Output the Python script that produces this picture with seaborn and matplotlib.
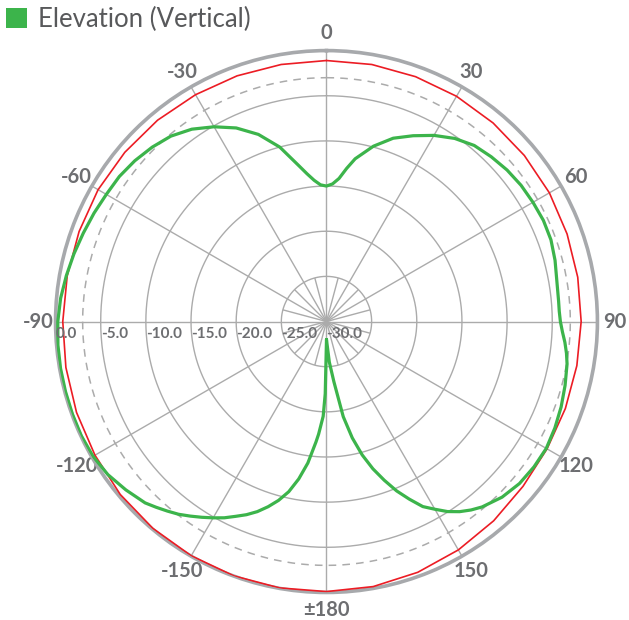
import numpy as np
import pandas as pd
import matplotlib
matplotlib.use('Agg')
import matplotlib.pyplot as plt
import seaborn as sns
from matplotlib.patches import Patch

# Angle tick labels (0 at top, clockwise)
angle_ticks = [0, 30, 60, 90, 120, 150, 180, 210, 240, 270, 300, 330]
angle_labels = ['0', '30', '60', '90', '120', '150', '\u00b1180',
                '-150', '-120', '-90', '-60', '-30']

# Radial scale in dB
ring_db = [-25, -20, -15, -10, -5]
ring_label_db = [-30, -25, -20, -15, -10, -5, 0]
ring_labels = ['-30.0', '-25.0', '-20.0', '-15.0', '-10.0', '-5.0', '0.0']

# Elevation (vertical) pattern, degrees / dB
elev_deg = [-180, -179, -178, -176, -175, -172.5, -170, -167.5, -165, -162.5,
            -160, -157.5, -155, -152.5, -150, -147.5, -145, -142.5, -140, -137.5,
            -135, -130, -125, -120, -115, -110, -105, -100,
            -95, -90, -85, -80, -75, -70, -65, -60, -55, -50,
            -45, -40, -35, -30, -25, -20, -15, -10, -7.5, -5, -2.5, 0,
            2.5, 5, 7.5, 10, 15, 20, 25, 30, 35, 40, 45, 50,
            55, 60, 65, 70, 75, 80, 85, 87.5, 90, 92.5, 95, 97.5, 100,
            105, 110, 115, 120, 125, 130, 135, 140, 142.5, 145, 147.5, 150,
            152.5, 155, 157.5, 160, 162.5, 165, 167.5, 170, 173, 176, 180]
elev_db = [-28.0, -22.0, -19.5, -17.5, -16.6, -14.2, -12.3, -10.7, -9.5, -8.5,
           -7.6, -6.85, -6.2, -5.5, -4.9, -4.3, -3.7, -3.1, -2.6, -2.1,
           -1.6, -1.0, -0.45, -0.15, -0.05, -0.06, -0.08, -0.1,
           -0.15, -0.25, -0.45, -0.75, -1.05, -1.35, -1.6, -1.85, -2.0, -2.3,
           -2.7, -3.2, -4.0, -5.1, -6.35, -7.95, -10.0, -12.5, -13.5, -14.3, -14.85, -15.0,
           -14.75, -14.1, -12.9, -11.7, -9.9, -8.4, -7.3, -6.2, -5.25, -4.55, -4.2, -3.9,
           -3.7, -3.6, -3.5, -3.55, -3.8, -4.1, -4.2, -4.2, -4.1, -3.85, -3.5, -3.2, -2.95,
           -2.65, -2.35, -2.1, -1.9, -1.95, -2.1, -2.5, -3.2, -3.7, -4.3, -5.05, -6.0,
           -6.9, -8.3, -9.7, -11.3, -12.9, -14.7, -16.8, -19.3, -23.3, -25.5, -28.0]

# Red reference trace
ref_deg = list(range(0, 370, 10))
ref_db = [-1.1, -1.1, -1.15, -1.2, -1.3, -1.4, -1.5, -1.65, -1.75, -1.8,
          -1.85, -1.85, -1.8, -1.6, -1.2, -0.8, -0.45, -0.2, -0.1, -0.05,
          -0.03, -0.05, -0.1, -0.2, -0.4, -0.55, -0.7, -0.8, -0.85, -0.85,
          -0.8, -0.85, -0.9, -1.0, -1.05, -1.1, -1.1]

green = '#3cb44b'
red = '#ec1c24'
grid_gray = '#ababab'
text_gray = '#6d6e71'

sns.set_style('white')
plt.rcParams['font.family'] = ['Lato', 'DejaVu Sans']

fig = plt.figure(figsize=(6.29, 6.20), dpi=100)
ax = fig.add_axes([0.0882, 0.0444, 0.8617, 0.874], projection='polar')
ax.set_theta_zero_location('N')
ax.set_theta_direction(-1)
ax.set_ylim(-30, 0)
ax.grid(False)
ax.set_yticks([])
ax.set_xticks(np.deg2rad(angle_ticks))
ax.set_xticklabels(angle_labels, fontsize=14.5, fontweight='bold', color=text_gray)
ax.tick_params(axis='x', pad=2)

# grid
circ = np.linspace(0, 2 * np.pi, 361)
for r in ring_db:
    ax.plot(circ, np.full_like(circ, r), color=grid_gray, lw=1, zorder=1)
ax.plot(circ, np.full_like(circ, -3), color=grid_gray, lw=1.1, dashes=(5, 4), zorder=1)
ax.vlines(np.deg2rad(angle_ticks), -30, 0, color=grid_gray, lw=1, zorder=1)
ax.vlines(np.deg2rad(np.arange(15, 360, 30)), -30, -25, color=grid_gray, lw=1, zorder=1)
ax.spines['polar'].set_color('#a7a9ac')
ax.spines['polar'].set_linewidth(2.6)

ref = pd.DataFrame({'theta': np.deg2rad(ref_deg), 'db': ref_db})
elev = pd.DataFrame({'theta': np.deg2rad(elev_deg), 'db': elev_db})
sns.lineplot(data=ref, x='theta', y='db', ax=ax, color=red, lw=1.2,
             sort=False, estimator=None, zorder=3)
sns.lineplot(data=elev, x='theta', y='db', ax=ax, color=green, lw=2.3,
             sort=False, estimator=None, zorder=4)
ax.set_xlabel('')
ax.set_ylabel('')

for v, lab in zip(ring_label_db, ring_labels):
    ax.annotate(lab, xy=(np.deg2rad(270), v), xytext=(0, -4),
                textcoords='offset points', ha='left', va='top',
                fontsize=11, fontweight='bold', color=text_gray, zorder=5)

fig.legend(handles=[Patch(facecolor=green, edgecolor='none', label='Elevation (Vertical)')],
           loc='upper left', bbox_to_anchor=(0.0, 1.0), frameon=False,
           fontsize=18.5, handlelength=0.82, handleheight=0.82, handletextpad=0.4,
           borderaxespad=0.0, borderpad=0.25, labelcolor='#58595b')

fig.savefig('out.png', dpi=100)
